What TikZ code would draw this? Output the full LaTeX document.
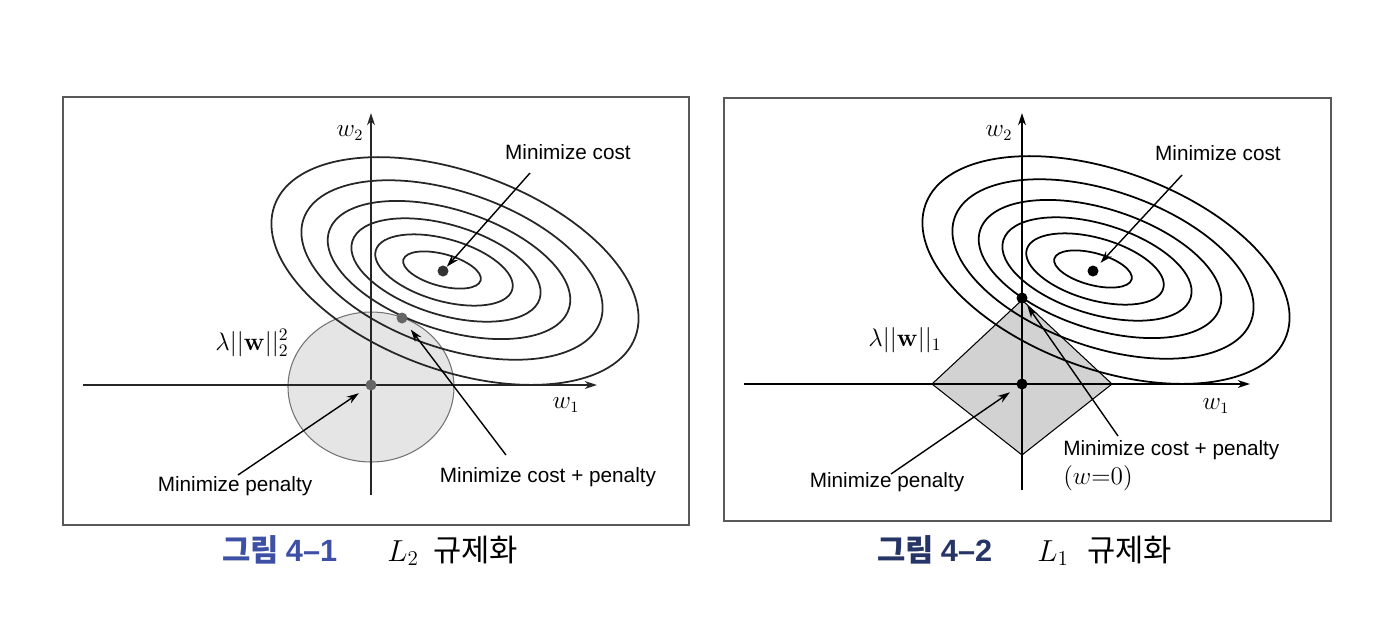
\documentclass[tikz,border=0pt]{standalone}
\usepackage[no-math]{fontspec}
\usepackage{amsmath}
\usetikzlibrary{arrows.meta}
\newfontfamily\lblfont{Liberation Sans}
\newfontfamily\kofont{Noto Sans CJK KR}
\definecolor{figblue}{RGB}{62,80,165}
\definecolor{fignavy}{RGB}{38,52,102}

% contour lines of the cost, drawn around the panel origin
\newcommand{\costrings}{%
  \foreach \cx/\cy/\ra/\rb/\ang in {71/-115/40/16/-15, 73/-115/71/31/-16, 75/-115/98/45/-17,
                                   78/-115/126/60/-18, 81/-115/157/78/-19, 84/-114/192/99/-20}
    {\draw[line width=1pt, rotate around={\ang:(\cx,\cy)}] (\cx,\cy) ellipse [x radius=\ra, y radius=\rb];}%
}

\begin{document}
\begin{tikzpicture}[x=0.02cm, y=-0.02cm,
    lbl/.style={font=\lblfont\fontsize{11.8}{13}\selectfont, inner sep=0pt},
    mlbl/.style={font=\fontsize{13.5}{15}\selectfont, inner sep=0pt},
    normlbl/.style={font=\fontsize{14}{16}\selectfont, inner sep=0pt},
    caplbl/.style={font=\fontsize{17.5}{20}\selectfont, inner sep=0pt, anchor=base west},
    dot/.style={circle, fill=black, inner sep=0pt, minimum size=0.22cm},
    arr/.style={-{Stealth[length=7pt, width=4.5pt]}, line width=0.8pt},
    panel/.style={draw=black!65, line width=1pt}]
\useasboundingbox (0,0) rectangle (1387,630);

% left panel: L2
\draw[panel] (63,97) rectangle (689,525);
\filldraw[fill=gray!20, draw=black!55, line width=0.6pt] (371,387) ellipse [x radius=83, y radius=75];
\draw[arr, black!85] (83,385) -- (597,385);
\draw[arr, black!85] (371,495) -- (371,113);
\begin{scope}[shift={(371,385)}, black!85]
  \costrings
\end{scope}

\node[dot, fill=black!80] (minL) at (443,271) {};
\node[dot, fill=black!60] (tanL) at (402,318) {};
\node[dot, fill=black!60] (origL) at (371,385) {};

\node[mlbl] (w2L) at (350,133) {$w_2$};
\node[mlbl] (w1L) at (566,405) {$w_1$};
\node[lbl] (costL) at (568,152) {Minimize cost};
\node[normlbl] (normL) at (252,343) {$\lambda||\mathbf{w}||_2^2$};
\node[lbl] (penL) at (235,486) {Minimize penalty};
\node[lbl] (bothL) at (548,477) {Minimize cost + penalty};

\coordinate (costLtail) at (530,173);
\coordinate (penLtail) at (238,475);
\coordinate (bothLtail) at (506,455);
\draw[arr] (costLtail) -- (minL);
\draw[arr, shorten >=5pt] (penLtail) -- (origL);
\draw[arr, shorten >=5pt] (bothLtail) -- (tanL);

% right panel: L1
\draw[panel] (724,98) rectangle (1331,521);
\filldraw[fill=gray!35, draw=black, line width=0.6pt] (932,384) -- (1022,300) -- (1112,384) -- (1022,455) -- cycle;
\draw[arr] (744,384) -- (1250,384);
\draw[arr] (1022,490) -- (1022,113);
\begin{scope}[shift={(1022,384)}]
  \costrings
\end{scope}

\node[dot] (minR) at (1093,271) {};
\node[dot] (tanR) at (1022,298) {};
\node[dot] (origR) at (1022,384) {};

\node[mlbl] (w2R) at (999,133) {$w_2$};
\node[mlbl] (w1R) at (1216,406) {$w_1$};
\node[lbl] (costR) at (1218,153) {Minimize cost};
\node[normlbl] (normR) at (905,340) {$\lambda||\mathbf{w}||_1$};
\node[lbl] (penR) at (887,482) {Minimize penalty};
\node[lbl, anchor=west] (bothR) at (1063,450) {Minimize cost + penalty};
\node[mlbl, anchor=west] (zeroR) at (1063,478) {$(w{=}0)$};

\coordinate (costRtail) at (1182,175);
\coordinate (penRtail) at (891,474);
\coordinate (bothRtail) at (1118,436);
\draw[arr, shorten >=3pt] (costRtail) -- (minR);
\draw[arr, shorten >=5pt] (penRtail) -- (origR);
\draw[arr, shorten >=2pt] (bothRtail) -- (tanR);

% captions
\node[caplbl, text=figblue] (numL) at (222,561) {\kofont\bfseries 그림 {\lblfont\bfseries 4–1}};
\node[caplbl] (symL) at (387,561) {$L_2$};
\node[caplbl] (txtL) at (433,561) {\kofont 규제화};
\node[caplbl, text=fignavy] (numR) at (877,561) {\kofont\bfseries 그림 {\lblfont\bfseries 4–2}};
\node[caplbl] (symR) at (1037,561) {$L_1$};
\node[caplbl] (txtR) at (1087,561) {\kofont 규제화};
\end{tikzpicture}
\end{document}
